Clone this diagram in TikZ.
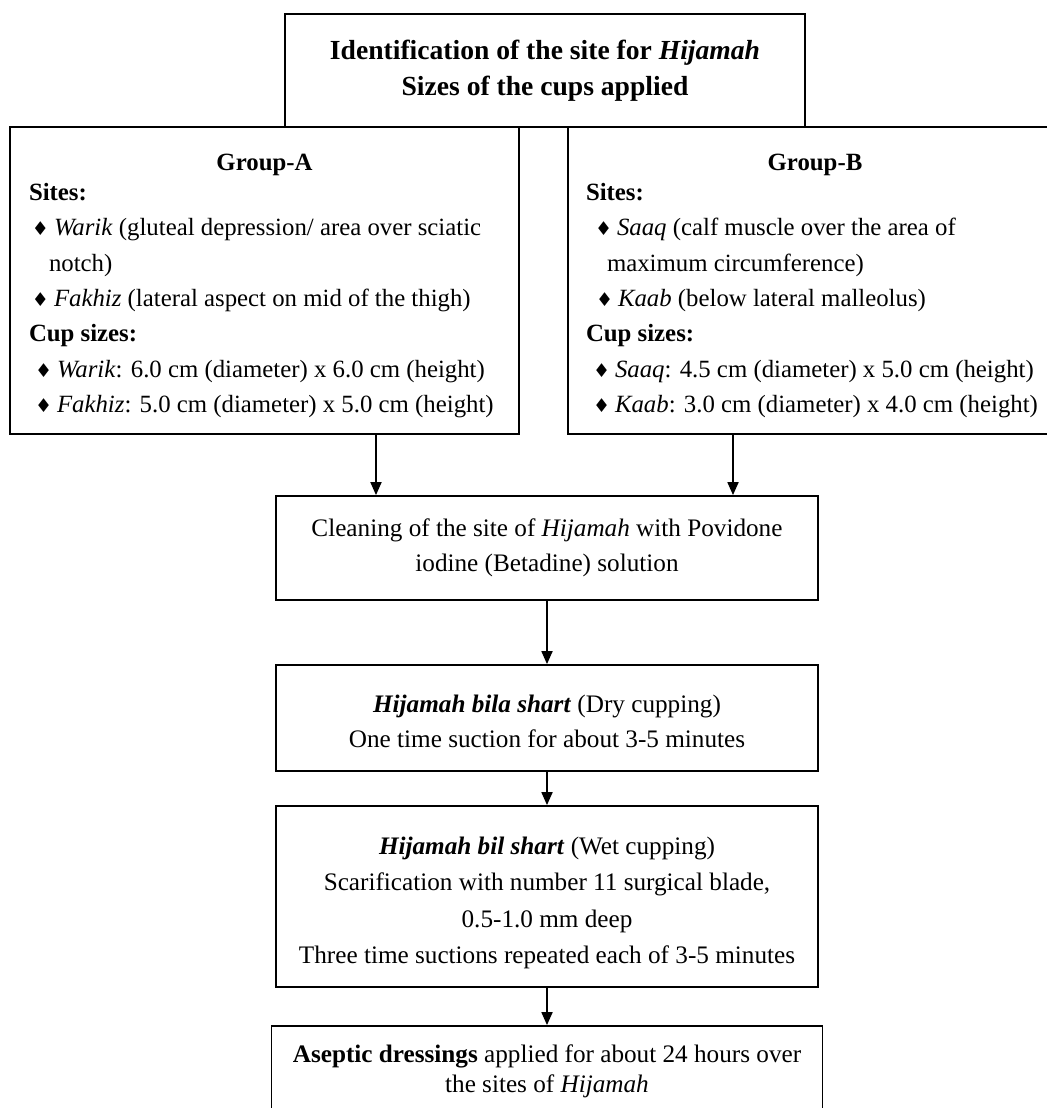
\documentclass[tikz,border=0pt]{standalone}
\usepackage{fontspec}
\setmainfont{Liberation Serif}
\newfontfamily\symfont{DejaVu Sans}
\usetikzlibrary{arrows.meta}

\newcommand{\dia}{{\symfont\fontsize{9.5}{9.5}\selectfont\char"2666}}
\newcommand{\itm}[1][1.5pt]{\hspace*{#1}\dia\hspace{2.5pt}}

\begin{document}
\begin{tikzpicture}[>={Triangle[length=6.5pt,width=5.5pt]},x=0.5pt,y=-0.5pt,
                    line width=0.9pt]
  \tikzstyle{block} = [rectangle, draw, inner sep=0pt, align=center,
    font=\fontsize{12.6}{17.5}\selectfont]
  \tikzstyle{group} = [block, align=flush left, font=\fontsize{12.4}{17.7}\selectfont]

  \useasboundingbox (0,0) rectangle (1046,1108);

  \node[block, minimum width=260pt, minimum height=56.5pt,
        font=\fontsize{13.8}{18}\selectfont] (Title) at (545,70.5)
    {\textbf{Identification of the site for \textit{Hijamah}}\\
     \textbf{Sizes of the cups applied}};

  \node[group, text width=235.5pt, minimum width=254.5pt, minimum height=153.5pt]
    (GroupA) at (264.5,280.5)
    {\rule{0pt}{14pt}\makebox[\linewidth][c]{\textbf{Group-A}}\\[-3pt]
     \textbf{Sites:}\\
     \itm\textit{Warik} (gluteal depression/ area over sciatic\\
     \hspace*{10pt}notch)\\
     \itm\textit{Fakhiz} (lateral aspect on mid of the thigh)\\
     \textbf{Cup sizes:}\\
     \itm[3pt]\textit{Warik}: 6.0 cm (diameter) x 6.0 cm (height)\\
     \itm[3pt]\textit{Fakhiz}: 5.0 cm (diameter) x 5.0 cm (height)};

  \node[group, text width=229pt, minimum width=247pt, minimum height=153.5pt]
    (GroupB) at (815,280.5)
    {\rule{0pt}{14pt}\makebox[\linewidth][c]{\textbf{Group-B}}\\[-3pt]
     \textbf{Sites:}\\
     \itm[4.5pt]\textit{Saaq} (calf muscle over the area of\\
     \hspace*{10.5pt}maximum circumference)\\
     \itm[5pt]\textit{Kaab} (below lateral malleolus)\\
     \textbf{Cup sizes:}\\
     \itm[3.5pt]\textit{Saaq}: 4.5 cm (diameter) x 5.0 cm (height)\\
     \itm[3.5pt]\textit{Kaab}: 3.0 cm (diameter) x 4.0 cm (height)};

  \node[block, minimum width=271pt, minimum height=52pt] (Cleaning) at (547,548)
    {Cleaning of the site of \textit{Hijamah} with Povidone\\
     iodine (Betadine) solution};
  \node[block, minimum width=271pt, minimum height=53pt] (Dry) at (547,718)
    {\rule{0pt}{12pt}\textbf{\textit{Hijamah bila shart}} (Dry cupping)\\
     One time suction for about 3-5 minutes};
  \node[block, minimum width=271pt, minimum height=90.5pt,
        font=\fontsize{12.6}{18.2}\selectfont] (Wet) at (547,896.5)
    {\rule{0pt}{15pt}\textbf{\textit{Hijamah bil shart}} (Wet cupping)\\
     Scarification with number 11 surgical blade,\\
     0.5-1.0 mm deep\\
     Three time suctions repeated each of 3-5 minutes};
  \node[block, minimum width=275.5pt, minimum height=45pt] (Dressing) at (547,1071)
    {\textbf{Aseptic dressings} applied for about 24 hours over\\[-2.5pt]
     the sites of \textit{Hijamah}};

  \coordinate (ArrowA) at (376,434);
  \coordinate (ArrowB) at (733,434);
  \draw[->] (ArrowA) -- (ArrowA |- Cleaning.north);
  \draw[->] (ArrowB) -- (ArrowB |- Cleaning.north);
  \draw[->] (Cleaning) -- (Dry);
  \draw[->] (Dry) -- (Wet);
  \draw[->] (Wet) -- (Dressing);
\end{tikzpicture}
\end{document}
